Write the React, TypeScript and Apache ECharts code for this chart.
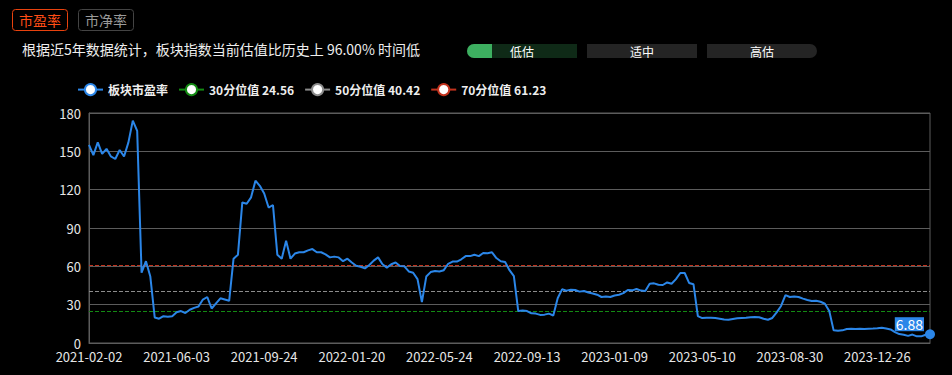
import React, { useEffect, useRef } from "react";
import * as echarts from "echarts";

// x-axis tick labels (one every 20 samples)
const tickLabels = [
  "2021-02-02", "2021-06-03", "2021-09-24", "2022-01-20", "2022-05-24",
  "2022-09-13", "2023-01-09", "2023-05-10", "2023-08-30", "2023-12-26",
];

// 板块市盈率 values, sampled along the x-axis
const peValues = [
  155, 147, 157, 148, 152, 146, 144, 151, 146, 157,
  174, 166, 55, 64, 52, 20, 19, 21, 20.5, 21,
  24, 25, 23.5, 26, 27.5, 28.5, 34, 36, 27, 31,
  35, 34, 33, 66, 69, 110, 109, 114, 127, 123,
  117, 106, 108, 69, 66, 80, 66, 70, 71, 71,
  72.5, 73.5, 71, 71, 69.4, 67, 67.6, 67, 64, 66,
  63, 60.5, 59.7, 58.4, 61, 64.5, 67, 61.6, 59, 61.6,
  63, 60.3, 60, 56, 55, 50, 32, 52, 55.5, 56.4,
  56, 57, 62, 63.7, 63.7, 65.5, 68, 68, 69, 68,
  70.4, 70.3, 71, 66.5, 64, 63.4, 57, 52.4, 25, 25.5,
  25, 23.2, 23, 22, 22.2, 23, 21.5, 35, 42, 41,
  41.7, 41.5, 40.2, 40.7, 39.5, 38.7, 37.8, 36, 36.4, 36,
  37.2, 37.8, 39, 41.5, 41.2, 42.3, 41, 40.7, 46.4, 46.7,
  45.6, 45.4, 47.4, 46.4, 50, 54.8, 54.8, 47, 46, 21,
  19.5, 19.8, 19.8, 19.5, 19, 18.4, 18.2, 18.8, 19.3, 19.6,
  19.8, 20.2, 20.3, 20.2, 19, 18.2, 19.6, 24, 29, 37.5,
  36, 36.4, 36, 34.7, 33.7, 32.9, 33, 32.3, 30.7, 25,
  9.9, 9.5, 9.9, 11, 11.2, 11, 11.2, 11, 11.2, 11.3,
  11.5, 12, 11.4, 10.6, 8.5, 7, 6.5, 5.6, 6.6, 5.2,
  5.2, 6.5, 6.88,
];

const seriesName = "板块市盈率";
const percentileNames = ["30分位值 24.56", "50分位值 40.42", "70分位值 61.23"];
const percentileValues = [24.56, 40.42, 61.23];
const percentileColors = ["#138a13", "#8c8c8c", "#c2321d"];

const summaryText = "根据近5年数据统计，板块指数当前估值比历史上 96.00% 时间低";
const tabLabels = ["市盈率", "市净率"];
const levelLabels = ["低估", "适中", "高估"];

const LABEL_STEP = 20;

export default function App() {
  const ref = useRef<HTMLDivElement>(null);

  useEffect(() => {
    if (!ref.current) return;
    const chart = echarts.init(ref.current, null, { renderer: "svg" });
    const blue = "#2b86e8";
    const font = '"Noto Sans CJK SC", "Noto Sans", sans-serif';
    const gridColor = "#5c5c5c";

    const categories = peValues.map((_, i) =>
      i % LABEL_STEP === 0 && tickLabels[i / LABEL_STEP] ? tickLabels[i / LABEL_STEP] : String(i)
    );
    const lastIdx = peValues.length - 1;

    const graphic: any[] = [
      // tabs
      {
        type: "rect",
        shape: { x: 12.5, y: 9.5, width: 55, height: 21, r: 3 },
        style: { fill: "transparent", stroke: "#e8420e", lineWidth: 1 },
      },
      {
        type: "text",
        x: 40,
        y: 20,
        style: { text: tabLabels[0], fill: "#ff4d16", font: `14px ${font}`, textAlign: "center", textVerticalAlign: "middle" },
      },
      {
        type: "rect",
        shape: { x: 78.5, y: 9.5, width: 55, height: 21, r: 3 },
        style: { fill: "transparent", stroke: "#444", lineWidth: 1 },
      },
      {
        type: "text",
        x: 106,
        y: 20,
        style: { text: tabLabels[1], fill: "#9a9a9a", font: `14px ${font}`, textAlign: "center", textVerticalAlign: "middle" },
      },
      // summary
      {
        type: "text",
        x: 22,
        y: 49,
        style: { text: summaryText, fill: "#eeeeee", font: `14px ${font}`, textAlign: "left", textVerticalAlign: "middle" },
      },
      // level bars
      {
        type: "rect",
        shape: { x: 467, y: 44, width: 110, height: 14, r: [7, 0, 0, 7] },
        style: { fill: "#0f2a17" },
      },
      {
        type: "rect",
        shape: { x: 467, y: 44, width: 25, height: 14, r: [7, 0, 0, 7] },
        style: { fill: "#3daf60" },
      },
      {
        type: "rect",
        shape: { x: 587, y: 44, width: 110, height: 14, r: 0 },
        style: { fill: "#242424" },
      },
      {
        type: "rect",
        shape: { x: 707, y: 44, width: 110, height: 14, r: [0, 7, 7, 0] },
        style: { fill: "#242424" },
      },
    ];
    levelLabels.forEach((t, k) => {
      graphic.push({
        type: "text",
        x: 522 + k * 120,
        y: 51,
        style: { text: t, fill: "#ffffff", font: `12px ${font}`, textAlign: "center", textVerticalAlign: "middle" },
      });
    });

    const option: any = {
      backgroundColor: "#000000",
      animation: false,
      textStyle: { fontFamily: font },
      graphic,
      legend: {
        left: 72,
        top: 78,
        itemWidth: 25,
        itemHeight: 14,
        itemGap: 10,
        textStyle: { color: "#eeeeee", fontSize: 12, fontWeight: "bold", fontFamily: font },
        data: [seriesName, ...percentileNames],
      },
      grid: {
        left: 89,
        right: 22,
        top: 113,
        bottom: 32,
        show: true,
        borderColor: gridColor,
        borderWidth: 1,
        containLabel: false,
        outerBoundsMode: "none",
      },
      xAxis: {
        type: "category",
        boundaryGap: false,
        data: categories,
        axisLine: { lineStyle: { color: gridColor } },
        axisTick: { show: false },
        axisLabel: { interval: LABEL_STEP - 1, color: "#e6e6e6", fontSize: 13, lineHeight: 13, margin: 7, fontFamily: font },
        splitLine: { show: false },
      },
      yAxis: {
        type: "value",
        min: 0,
        max: 180,
        interval: 30,
        axisLine: { show: true, lineStyle: { color: gridColor } },
        axisTick: { show: false },
        axisLabel: { color: "#e6e6e6", fontSize: 13, lineHeight: 12, margin: 8, fontFamily: font },
        splitLine: { lineStyle: { color: gridColor } },
      },
      series: [
        {
          name: seriesName,
          type: "line",
          data: peValues,
          symbol: "emptyCircle",
          showSymbol: false,
          lineStyle: { color: blue, width: 2 },
          itemStyle: { color: blue },
          z: 5,
          markPoint: {
            silent: true,
            symbol: "circle",
            symbolSize: 10,
            itemStyle: { color: blue },
            label: {
              show: true,
              position: "left",
              offset: [4, -10],
              formatter: "{c}",
              color: "#ffffff",
              backgroundColor: blue,
              fontSize: 14,
              lineHeight: 14,
              padding: [0, 1],
              fontFamily: font,
            },
            data: [{ coord: [lastIdx, peValues[lastIdx]], value: peValues[lastIdx] }],
          },
        },
        ...percentileNames.map((name, k) => ({
          name,
          type: "line",
          data: [],
          symbol: "emptyCircle",
          itemStyle: { color: percentileColors[k] },
          lineStyle: { color: percentileColors[k] },
          markLine: {
            silent: true,
            symbol: "none",
            label: { show: false },
            lineStyle: { color: percentileColors[k], type: "dashed", width: 1 },
            data: [{ yAxis: percentileValues[k] }],
          },
        })),
      ],
    };

    chart.setOption(option);
    return () => chart.dispose();
  }, []);

  return (
    <div
      ref={ref}
      style={{ position: "fixed", left: 0, top: 0, width: 952, height: 375, background: "#000" }}
    />
  );
}
